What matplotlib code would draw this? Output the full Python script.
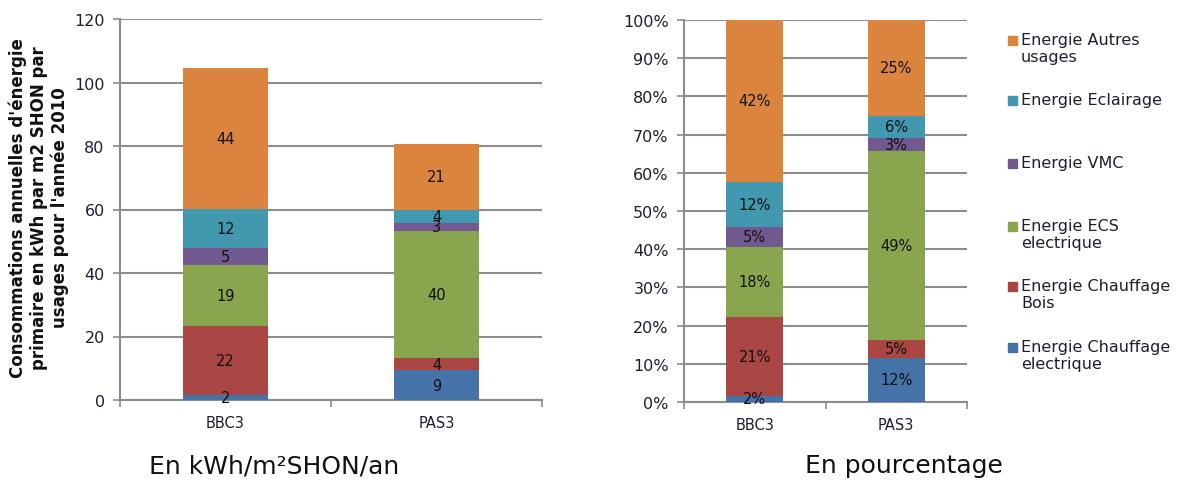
import matplotlib
matplotlib.use("Agg")
import matplotlib.pyplot as plt
from matplotlib.patches import Rectangle

# data (stack order bottom -> top)
categories = ["BBC3", "PAS3"]
series = [
    "Energie Chauffage\nelectrique",
    "Energie Chauffage\nBois",
    "Energie ECS\nelectrique",
    "Energie VMC",
    "Energie Eclairage",
    "Energie Autres\nusages",
]
colors = ["#4572A7", "#AA4643", "#89A54E", "#71588F", "#4198AF", "#DB843D"]

# kWh/m2 SHON/an
kwh_bbc3 = [1.6, 21.7, 19.2, 5.4, 12.3, 44.4]
kwh_pas3 = [9.3, 3.8, 40.0, 2.8, 4.1, 20.6]

# percentage of total
pct_bbc3 = [1.6, 20.7, 18.3, 5.2, 11.8, 42.4]
pct_pas3 = [11.6, 4.7, 49.4, 3.4, 5.8, 25.1]

kwh_ticks = [0, 20, 40, 60, 80, 100, 120]
pct_ticks = [0, 10, 20, 30, 40, 50, 60, 70, 80, 90, 100]

GRID = "#8C8C8C"
TXT = "#1E1E30"

W, H = 1183, 481
fig = plt.figure(figsize=(W / 100, H / 100), dpi=100)
plt.rcParams["font.family"] = ["DejaVu Sans"]


def stacked(ax, cols, fmt):
    x = range(len(categories))
    bottoms = [0.0] * len(categories)
    for i, name in enumerate(series):
        vals = [c[i] for c in cols]
        bars = ax.bar(x, vals, 0.4, bottom=bottoms, color=colors[i],
                      edgecolor="none", zorder=3)
        ax.bar_label(bars, labels=[fmt % v for v in vals], label_type="center",
                     fontsize=10.5, color="#111111", zorder=4)
        bottoms = [b + v for b, v in zip(bottoms, vals)]


def style(ax, ticks, ymax, ylabels):
    ax.set_xlim(-0.5, 1.5)
    ax.set_ylim(0, ymax)
    ax.set_yticks(ticks)
    ax.set_yticklabels(ylabels, fontsize=11.5, color=TXT)
    ax.set_xticks(range(len(categories)))
    ax.set_xticklabels(categories, fontsize=10.5, color=TXT)
    ax.set_xticks([-0.5, 0.5, 1.5], minor=True)
    ax.tick_params(axis="x", which="major", length=0, pad=11)
    ax.tick_params(axis="x", which="minor", length=5, width=1.2, color=GRID, direction="out")
    ax.tick_params(axis="y", length=5, width=1.2, color=GRID, direction="out", pad=6)
    ax.yaxis.grid(True, color=GRID, linewidth=1.5, zorder=0)
    ax.set_axisbelow(True)
    for s in ("top", "right"):
        ax.spines[s].set_visible(False)
    for s in ("left", "bottom"):
        ax.spines[s].set_color(GRID)
        ax.spines[s].set_linewidth(1.5)


ax1 = fig.add_axes([120 / W, 80 / H, 422 / W, 381 / H])
stacked(ax1, [kwh_bbc3, kwh_pas3], "%.0f")
style(ax1, kwh_ticks, 120, [str(t) for t in kwh_ticks])

ax2 = fig.add_axes([684 / W, 78 / H, 283 / W, 382 / H])
stacked(ax2, [pct_bbc3, pct_pas3], "%.0f%%")
style(ax2, pct_ticks, 100, [f"{t}%" for t in pct_ticks])

fig.text(39 / W, 1 - 208 / H,
         "Consommations annuelles d'énergie\nprimaire en kWh par m2 SHON par\nusages pour l'année 2010",
         rotation=90, ha="center", va="center", multialignment="center",
         fontsize=12, fontweight="bold", color="#111111", linespacing=1.2)

# legend, one entry per series, top to bottom
legend_y = [42, 102, 165, 228, 288, 349]
for name, col, yy in zip(series[::-1], colors[::-1], legend_y):
    fig.patches.append(Rectangle((1008 / W, 1 - (yy + 4) / H), 9 / W, 9 / H,
                                 transform=fig.transFigure, color=col))
    fig.text(1021 / W, 1 - (yy - 9) / H, name, ha="left", va="top",
             fontsize=11.5, color=TXT, linespacing=1.15)

fig.text(274 / W, 1 - 466 / H, "En kWh/m²SHON/an", ha="center", va="center",
         fontsize=18, color="#111111")
fig.text(904 / W, 1 - 466 / H, "En pourcentage", ha="center", va="center",
         fontsize=18, color="#111111")

fig.savefig("out.png", dpi=100, facecolor="white")
